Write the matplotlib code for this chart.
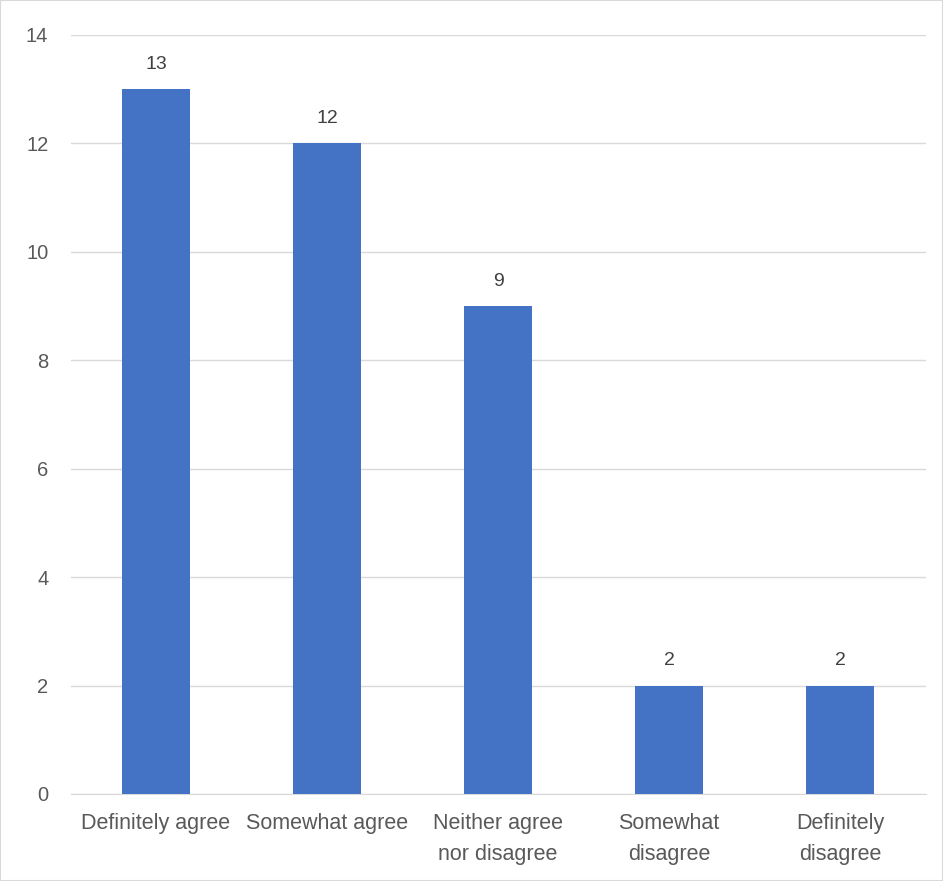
import matplotlib
matplotlib.use("Agg")
import matplotlib.pyplot as plt
from matplotlib.patches import Rectangle

categories = ["Definitely agree", "Somewhat agree", "Neither agree\nnor disagree",
              "Somewhat\ndisagree", "Definitely\ndisagree"]
values = [13, 12, 9, 2, 2]
yticks = [0, 2, 4, 6, 8, 10, 12, 14]

plt.rcParams['font.family'] = ['Liberation Sans', 'DejaVu Sans']

fig = plt.figure(figsize=(9.43, 8.81), dpi=100)
ax = fig.add_axes([0.0748, 0.0988, 0.9067, 0.8615])

x = range(len(categories))
ax.bar(x, values, width=0.4, color="#4472c4", zorder=3)
for xi, v in zip(x, values):
    ax.text(xi, v + 0.3, str(v), ha="center", va="bottom", fontsize=14, color="#404040")

ax.set_xlim(-0.5, len(categories) - 0.5)
ax.set_ylim(0, 14)
ax.set_yticks(yticks)
ax.set_xticks(list(x))
ax.set_xticklabels(categories, fontsize=15.5, color="#595959", linespacing=1.6)
ax.tick_params(axis="y", labelsize=14.5, labelcolor="#595959", length=0, pad=16)
ax.tick_params(axis="x", length=0, pad=14)
ax.grid(axis="y", color="#d9d9d9", linewidth=1, zorder=0)
for s in ["top", "right", "left"]:
    ax.spines[s].set_visible(False)
ax.spines["bottom"].set_color("#d9d9d9")

fig.patches.append(Rectangle((0, 0), 1, 1, transform=fig.transFigure, fill=False,
                             edgecolor="#d9d9d9", linewidth=1.5))

fig.savefig("out.png", dpi=100)
